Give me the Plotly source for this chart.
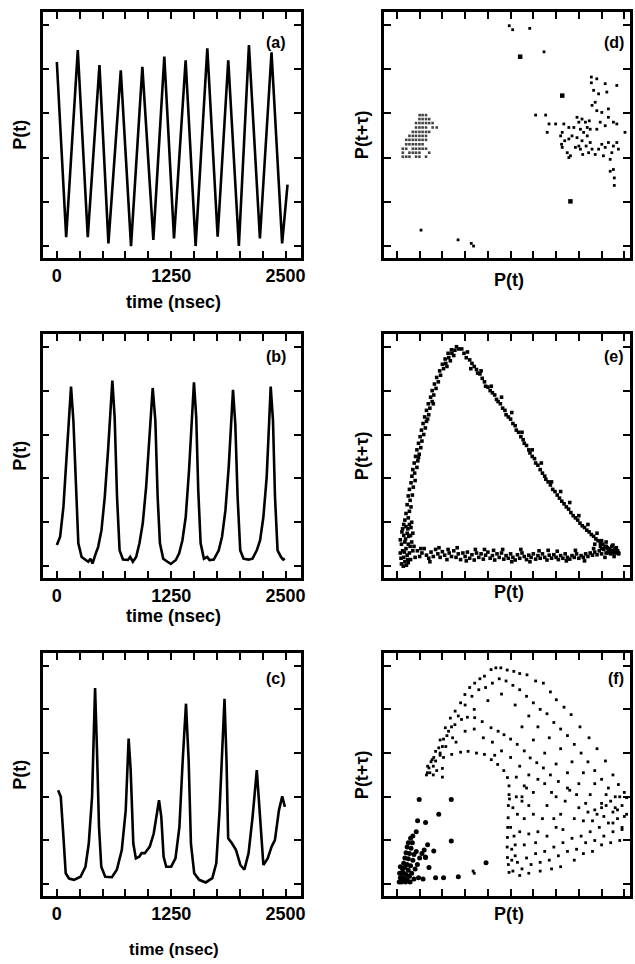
import plotly.graph_objects as go

# ---- time series (a), (b), (c): time in nsec, P(t) in tick units (0..5)
t_a = [0, 102, 229, 338, 466, 564, 699, 811, 935, 1055, 1175, 1281, 1408, 1517,
       1645, 1758, 1874, 1990, 2100, 2220, 2347, 2463, 2522]
p_a = [4.16, 0.20, 4.43, 0.20, 4.09, 0.06, 3.97, 0.00, 4.05, 0.14, 4.28, 0.17, 4.20, 0.00,
       4.47, 0.21, 4.20, 0.00, 4.54, 0.17, 4.38, 0.06, 1.39]

t_b = [0, 36, 72, 108, 137, 155, 181, 210, 235, 271, 307, 343, 368, 390, 426, 452,
       488, 524, 560, 589, 607, 632, 658, 686, 723, 777, 802, 831, 867, 903,
       939, 976, 1012, 1048, 1077, 1102, 1127, 1163, 1210, 1246, 1301, 1337, 1373,
       1409, 1445, 1481, 1499, 1524, 1546, 1572, 1608, 1644, 1669, 1716, 1770, 1806,
       1843, 1879, 1908, 1926, 1951, 1976, 2005, 2041, 2095, 2139, 2186, 2222,
       2258, 2294, 2320, 2338, 2363, 2385, 2413, 2450, 2475, 2493]
p_b = [0.48, 0.67, 1.35, 2.64, 3.55, 4.09, 3.32, 1.58, 0.52, 0.21, 0.15, 0.10, 0.17, 0.06, 0.29, 0.44,
       0.82, 1.58, 2.64, 3.62, 4.23, 3.39, 1.58, 0.36, 0.15, 0.14, 0.21, 0.10, 0.21, 0.52,
       0.97, 1.80, 2.94, 4.06, 3.32, 1.58, 0.52, 0.17, 0.10, 0.05, 0.14, 0.29, 0.59,
       1.12, 2.18, 3.55, 4.19, 3.39, 1.73, 0.52, 0.17, 0.21, 0.14, 0.15, 0.36, 0.67,
       1.27, 2.26, 3.32, 4.02, 3.24, 1.58, 0.36, 0.17, 0.15, 0.17, 0.36, 0.59,
       1.12, 2.03, 3.24, 4.09, 3.32, 1.58, 0.36, 0.21, 0.15, 0.17]

t_c = [14, 43, 72, 97, 133, 187, 259, 313, 349, 385, 403, 418, 439, 461, 486, 529, 602,
       656, 710, 753, 785, 807, 836, 864, 901, 926, 962, 1016, 1059, 1095, 1117, 1142,
       1167, 1196, 1250, 1297, 1340, 1376, 1412, 1441, 1466, 1502, 1556, 1628, 1700,
       1743, 1779, 1808, 1833, 1855, 1873, 1916, 1959, 2006, 2050, 2096, 2140, 2186,
       2222, 2258, 2305, 2348, 2384, 2428, 2464, 2493]
p_c = [2.15, 2.00, 1.09, 0.25, 0.13, 0.10, 0.17, 0.40, 0.93, 2.00, 3.37, 4.49, 3.06, 1.31, 0.40, 0.17, 0.16,
       0.33, 0.78, 1.69, 3.33, 2.61, 0.93, 0.59, 0.63, 0.71, 0.71, 0.86, 1.16, 1.69, 1.92, 1.54,
       0.63, 0.40, 0.40, 0.59, 1.31, 2.83, 4.13, 2.83, 0.93, 0.25, 0.10, 0.04, 0.14,
       0.48, 1.69, 3.06, 4.24, 2.83, 1.05, 0.93, 0.78, 0.44, 0.33, 0.71, 1.54, 2.61,
       1.54, 0.44, 0.59, 0.86, 1.01, 1.69, 2.01, 1.77]

# ---- delay plots (d), (e), (f): P(t) and P(t+tau) in tick units
d_grid_x = [1.00, 1.13, 1.28,
            0.99, 1.13, 1.28, 1.42,
            0.84, 0.99, 1.13, 1.28, 1.42, 1.57,
            0.84, 0.99, 1.13, 1.28, 1.57, 1.75,
            0.70, 0.84, 0.99, 1.13, 1.28, 1.42,
            0.55, 0.70, 0.84, 0.99, 1.13, 1.28,
            0.41, 0.55, 0.70, 0.84, 0.99, 1.13, 1.28,
            0.41, 0.55, 0.70, 0.84, 0.99, 1.13,
            0.26, 0.41, 0.70, 0.84, 0.99, 1.13, 1.28,
            0.26, 0.55, 0.70, 0.84, 0.99, 1.42,
            0.26, 0.41, 0.55, 0.84, 0.99, 1.28]
d_grid_y = [2.96, 2.96, 2.96,
            2.87, 2.87, 2.87, 2.87,
            2.78, 2.78, 2.78, 2.78, 2.78, 2.78,
            2.68, 2.68, 2.68, 2.68, 2.68, 2.68,
            2.58, 2.58, 2.58, 2.58, 2.58, 2.58,
            2.49, 2.49, 2.49, 2.49, 2.49, 2.49,
            2.40, 2.40, 2.40, 2.40, 2.40, 2.40, 2.40,
            2.30, 2.30, 2.30, 2.30, 2.30, 2.30,
            2.20, 2.20, 2.20, 2.20, 2.20, 2.20, 2.20,
            2.11, 2.11, 2.11, 2.11, 2.11, 2.11,
            2.02, 2.02, 2.02, 2.02, 2.02, 2.02]
d_small_x = [6.54, 6.69, 6.61, 7.34, 7.27, 7.24, 7.27, 7.56, 7.49, 7.63, 7.78, 7.92, 8.00, 8.14,
             8.07, 8.21, 7.92, 8.14, 8.37, 8.32, 8.07, 7.85, 8.50, 8.58, 8.43, 8.72, 8.87, 9.01,
             9.16, 9.30, 9.52, 9.67, 9.74, 9.45, 9.08, 8.79, 8.94, 9.16, 9.30, 9.52, 9.67, 8.58,
             8.72, 8.79, 9.01, 8.65, 8.87, 8.79, 9.23, 9.30, 9.16, 9.67, 8.55, 8.55, 8.50, 8.37,
             8.29, 8.46, 7.56, 7.70, 7.38, 7.20, 6.98, 8.00, 8.17, 7.56, 9.38, 10.03, 9.52, 9.56,
             9.56, 9.38, 6.10,
             4.94, 5.09, 5.84, 6.47, 1.06, 2.69, 3.27, 3.37]
d_small_y = [2.96, 2.76, 2.57, 2.76, 2.57, 2.30, 2.23, 2.42, 2.11, 2.04, 2.68, 2.91, 2.80, 2.87,
             2.64, 2.57, 2.45, 2.38, 2.49, 2.26, 2.19, 2.23, 2.34, 2.19, 2.11, 2.07, 2.19, 2.30,
             2.23, 2.34, 2.26, 2.34, 2.19, 2.11, 2.04, 2.64, 2.80, 2.72, 2.91, 2.80, 2.76, 3.18,
             3.25, 3.06, 3.02, 3.52, 3.44, 3.78, 3.48, 3.10, 3.67, 3.63, 3.82, 3.69, 2.64, 2.68,
             2.80, 2.83, 2.68, 2.49, 2.38, 2.49, 2.76, 2.26, 2.07, 2.00, 1.96, 2.57, 1.73, 1.54,
             1.37, 1.69, 2.96,
             4.98, 4.89, 4.92, 4.39, 0.36, 0.14, 0.06, 0.00]
d_big_x = [5.42, 7.27, 7.63]
d_big_y = [4.28, 3.40, 1.01]

e_x = [0.20, 0.35, 0.50, 0.30, 0.45, 0.60, 0.25, 0.40, 0.55, 0.70, 0.20, 0.35, 0.50, 0.65, 0.30, 0.45,
       0.60, 0.25, 0.40, 0.55, 0.35, 0.50, 0.65, 0.15, 0.15, 0.80, 0.75, 0.28, 0.42, 0.58, 0.38, 0.52,
       0.22, 0.48, 0.62, 0.30, 0.70, 0.18, 0.33, 0.47,
       0.40, 0.55, 0.62, 0.45, 0.58, 0.50, 0.68, 0.55, 0.72, 0.62, 0.80, 0.66, 0.78, 0.70, 0.88, 0.76,
       0.92, 0.82, 0.98, 0.88, 1.05, 0.95, 1.10, 1.02, 1.18, 1.08, 1.25, 1.15, 1.30, 1.22, 1.40, 1.30,
       1.45, 1.38, 1.55, 1.48, 1.62, 1.55, 1.72, 1.65, 1.82, 1.75, 1.92, 1.88, 2.05, 2.00, 2.15, 2.12,
       2.28, 2.25, 2.42, 2.40, 2.55, 2.62, 2.72, 2.50, 2.35, 2.20, 1.60, 0.95, 1.35,
       2.85, 2.95, 3.10, 3.05, 3.20, 3.30, 3.40, 3.50, 3.55, 3.65, 3.75, 3.85, 3.90, 4.00, 4.10, 4.20,
       4.30, 4.38, 4.45, 4.55, 4.65, 4.75, 4.80, 4.90, 5.00, 5.10, 5.20, 5.25, 5.35, 5.45, 5.55, 5.60,
       5.70, 5.80, 5.85, 5.95, 6.05, 6.10, 6.20, 6.30, 6.40, 6.50, 6.55, 6.65, 6.75, 6.85, 6.95, 7.05,
       7.15, 7.25, 7.35, 7.45, 7.55, 7.65, 7.75, 7.85, 7.95, 8.05, 8.15, 8.25, 8.35, 8.45, 8.55, 8.65,
       8.75, 8.85, 8.95, 9.05, 9.15, 9.25, 9.35, 9.45, 9.55, 9.65, 9.75,
       3.25, 3.70, 4.15, 4.60, 5.05, 5.50, 5.95, 6.35, 6.80, 7.20, 7.60, 8.00, 8.40, 8.80, 9.20, 9.50,
       9.30, 8.70, 9.00, 9.60,
       0.9, 1.0, 1.1, 1.2, 1.3, 1.4, 1.5, 1.6, 1.7, 1.8, 1.9, 2.0, 2.1, 2.2, 2.3, 2.4, 2.5, 2.6, 2.7,
       2.8, 2.9, 3.0, 3.1, 3.2, 3.3, 3.4, 3.5, 3.6, 3.7, 3.8, 3.9, 4.0, 4.1, 4.2, 4.3, 4.4, 4.5, 4.6,
       4.7, 4.8, 4.9, 5.0, 5.1, 5.2, 5.3, 5.4, 5.5, 5.6, 5.7, 5.8, 5.9, 6.0, 6.1, 6.2, 6.3, 6.4, 6.5,
       6.6, 6.7, 6.8, 6.9, 7.0, 7.1, 7.2, 7.3, 7.4, 7.5, 7.6, 7.7, 7.8, 7.9, 8.0, 8.1, 8.2, 8.3, 8.4,
       8.5, 8.6, 8.7, 8.8, 8.9, 9.0, 9.1, 9.2, 9.3, 9.4, 9.5, 9.6, 9.7,
       1.05, 1.45, 1.85, 2.25, 2.65, 3.05, 3.45, 3.85, 4.25, 4.65, 5.05, 5.45, 5.85, 6.25, 6.65, 7.05,
       7.45, 7.85, 8.25, 8.65, 8.95, 9.15, 9.45, 9.65, 9.55,
       9.3, 9.4, 9.5, 9.6, 9.7, 9.75, 9.2, 9.0]
e_y = [0.05, 0.10, 0.08, 0.20, 0.25, 0.15, 0.35, 0.40, 0.30, 0.35, 0.50, 0.55, 0.50, 0.55, 0.70, 0.75,
       0.70, 0.85, 0.90, 0.95, 1.05, 1.10, 1.00, 0.30, 0.60, 0.20, 0.45, 0.00, 0.02, 0.45, 0.62, 0.68,
       0.78, 0.85, 0.88, 0.95, 0.75, 0.18, 0.32, 0.15,
       1.20, 1.25, 1.35, 1.40, 1.50, 1.60, 1.62, 1.75, 1.80, 1.90, 1.95, 2.05, 2.12, 2.20, 2.25, 2.35,
       2.40, 2.50, 2.55, 2.65, 2.70, 2.80, 2.85, 2.95, 3.00, 3.10, 3.15, 3.25, 3.30, 3.40, 3.45, 3.55,
       3.60, 3.70, 3.75, 3.85, 3.90, 4.00, 4.05, 4.15, 4.20, 4.30, 4.35, 4.45, 4.50, 4.60, 4.62, 4.72,
       4.75, 4.85, 4.85, 4.93, 4.92, 5.00, 4.95, 4.80, 4.68, 4.55, 3.70, 2.48, 3.35,
       4.95, 4.85, 4.88, 4.75, 4.70, 4.62, 4.55, 4.48, 4.40, 4.38, 4.28, 4.20, 4.10, 4.08, 4.00, 3.95,
       3.90, 3.80, 3.75, 3.70, 3.60, 3.55, 3.45, 3.40, 3.35, 3.25, 3.20, 3.10, 3.05, 2.95, 2.88, 2.80,
       2.75, 2.65, 2.58, 2.50, 2.45, 2.35, 2.30, 2.20, 2.12, 2.05, 1.98, 1.92, 1.85, 1.75, 1.70, 1.62,
       1.55, 1.48, 1.42, 1.35, 1.30, 1.22, 1.15, 1.10, 1.05, 0.98, 0.92, 0.88, 0.82, 0.78, 0.72, 0.68,
       0.62, 0.58, 0.52, 0.50, 0.45, 0.42, 0.38, 0.36, 0.33, 0.32, 0.30,
       4.50, 4.45, 4.10, 3.85, 3.50, 3.05, 2.65, 2.35, 1.92, 1.70, 1.45, 1.15, 0.95, 0.75, 0.55, 0.48,
       0.30, 0.50, 0.40, 0.40,
       0.35, 0.22, 0.30, 0.40, 0.25, 0.18, 0.32, 0.22, 0.38, 0.28, 0.20, 0.33, 0.25, 0.15, 0.30, 0.22,
       0.35, 0.20, 0.28, 0.15, 0.30, 0.22, 0.32, 0.18, 0.26, 0.14, 0.30, 0.20, 0.28, 0.16, 0.25, 0.32,
       0.18, 0.24, 0.14, 0.28, 0.20, 0.30, 0.16, 0.24, 0.18, 0.28, 0.20, 0.14, 0.26, 0.18, 0.30, 0.22,
       0.15, 0.25, 0.20, 0.28, 0.16, 0.24, 0.18, 0.28, 0.20, 0.14, 0.25, 0.18, 0.26, 0.20, 0.15, 0.24,
       0.18, 0.28, 0.20, 0.16, 0.24, 0.20, 0.28, 0.18, 0.24, 0.20, 0.28, 0.22, 0.30, 0.25, 0.32, 0.26,
       0.35, 0.28, 0.38, 0.30, 0.36, 0.28, 0.34, 0.30, 0.35,
       0.40, 0.10, 0.42, 0.38, 0.42, 0.12, 0.38, 0.38, 0.36, 0.38, 0.10, 0.38, 0.10, 0.35, 0.36, 0.34,
       0.12, 0.36, 0.12, 0.40, 0.45, 0.20, 0.45, 0.42, 0.22,
       0.40, 0.35, 0.30, 0.36, 0.33, 0.28, 0.45, 0.58]

f_big_x = [0.10, 0.20, 0.30, 0.15, 0.25, 0.35, 0.45, 0.20, 0.30, 0.40, 0.55, 0.25, 0.35, 0.50, 0.65,
           0.30, 0.45, 0.60, 0.35, 0.50, 0.70, 0.40, 0.55, 0.75, 0.45, 0.62, 0.50, 0.68, 0.85, 0.90,
           0.80, 1.00, 1.10, 1.20, 1.35, 1.25, 0.95, 1.15, 0.60, 0.70, 0.85, 0.15, 0.38, 0.12, 0.58,
           0.75, 0.98, 0.91, 1.26, 1.84, 2.39, 2.39, 1.62, 1.70, 2.05, 2.70, 3.92, 1.41, 1.26]
f_big_y = [0.05, 0.05, 0.08, 0.15, 0.15, 0.12, 0.10, 0.25, 0.25, 0.22, 0.18, 0.35, 0.38, 0.32, 0.25,
           0.48, 0.45, 0.42, 0.60, 0.58, 0.55, 0.72, 0.70, 0.68, 0.85, 0.82, 0.95, 0.95, 0.75, 0.45,
           0.35, 0.60, 0.70, 0.78, 0.90, 0.62, 0.15, 0.12, 1.05, 1.10, 1.20, 0.40, 0.05, 0.25, 0.05,
           0.12, 1.94, 1.45, 1.41, 1.60, 1.94, 0.99, 0.76, 0.15, 0.15, 0.17, 0.49, 0.38, 0.61]
f_small_x = [1.34, 1.55, 1.70, 1.90, 2.13, 2.35, 2.56, 2.80, 2.99, 3.20, 3.42, 3.65, 3.85, 4.14, 4.35,
             4.57, 4.85, 5.14, 5.40, 5.72, 6.10, 6.44, 6.75, 7.01, 7.35, 7.66, 8.05, 8.45, 8.80, 9.17,
             9.50, 9.74, 10.1,
             1.41, 1.62, 1.84, 2.05, 2.27, 2.55, 2.84, 3.10, 3.42, 3.75, 4.14, 4.45, 4.71, 5.00, 5.29,
             5.60, 5.86, 6.15, 6.44, 6.75, 7.10, 7.50, 7.90, 8.30, 8.70, 9.10, 9.50, 9.90,
             1.70, 2.05, 2.41, 2.80, 3.13, 3.50, 3.85, 4.15, 4.43, 4.70, 4.86, 4.93, 4.93, 4.90, 4.89,
             4.87, 4.86, 4.85, 4.86, 4.90, 4.93,
             1.6, 2.0, 2.4, 2.7, 3.0, 3.3, 3.6, 3.9, 4.2, 4.5, 4.8, 5.1, 5.4, 5.7, 6.0, 6.3, 6.6, 6.9,
             7.2, 7.5, 7.8, 8.1, 8.4, 8.7, 9.0, 9.3, 9.6, 9.9, 4.0, 4.6, 5.2, 5.8, 6.2, 6.7, 7.2, 7.7,
             8.2, 8.7, 9.2, 9.7, 3.4, 2.2, 1.9, 5.5, 6.0, 6.5, 7.0, 7.5, 8.0, 8.5, 9.0, 9.5, 10.0,
             5.1, 5.3, 5.5, 5.7, 5.9, 6.1, 6.3, 6.5, 6.7, 6.9, 7.1, 7.3, 7.5, 7.7, 7.9, 8.1, 8.3, 8.5,
             8.7, 8.9, 9.1, 9.3, 9.5, 9.7, 9.9, 10.1,
             5.2, 5.4, 5.6, 5.8, 6.0, 5.3, 5.5, 5.7, 6.2, 6.4, 6.6, 6.8, 6.1, 7.0, 7.2, 7.4, 7.6, 7.8,
             8.0, 8.2, 8.4, 8.6, 8.8, 9.0, 9.2, 9.4, 9.6, 9.8, 10.0,
             5.0, 5.15, 5.2, 5.6, 5.8, 6.3, 6.6, 6.9, 7.3, 7.8, 8.2, 8.6, 9.0, 9.4, 9.8, 5.05, 5.05,
             5.1, 5.25, 6.0, 6.5, 7.0, 4.95, 5.4, 5.8, 6.8, 7.2,
             3.4, 3.35, 1.3, 1.45, 1.6, 1.75, 2.0, 1.35, 1.5, 1.9, 2.15, 2.45, 2.0,
             2.6, 3.0, 3.4, 3.8, 4.2, 4.6, 5.0, 5.4, 5.8, 6.2, 4.3, 5.25, 5.6, 5.5]
f_small_y = [2.55, 2.85, 3.04, 3.30, 3.58, 3.80, 3.96, 4.15, 4.34, 4.50, 4.60, 4.70, 4.76, 4.91, 4.95,
             4.95, 4.90, 4.87, 4.82, 4.79, 4.65, 4.60, 4.40, 4.22, 4.05, 3.88, 3.60, 3.35, 3.10, 2.82,
             2.50, 2.28, 1.98,
             2.66, 2.90, 3.12, 3.32, 3.50, 3.65, 3.77, 3.82, 3.81, 3.72, 3.58, 3.50, 3.42, 3.32, 3.20,
             3.05, 2.89, 2.78, 2.66, 2.50, 2.35, 2.20, 2.05, 1.85, 1.70, 1.55, 1.40, 1.30,
             2.82, 2.90, 2.97, 3.02, 3.04, 3.00, 2.97, 2.85, 2.74, 2.60, 2.44, 2.25, 2.05, 1.80, 1.52,
             1.30, 1.07, 0.85, 0.61, 0.45, 0.27,
             2.70, 3.15, 3.60, 3.85, 4.10, 4.30, 4.45, 4.50, 4.60, 4.70, 4.65, 4.55, 4.45, 4.30, 4.15,
             4.00, 3.90, 3.70, 3.55, 3.40, 3.20, 3.00, 2.80, 2.60, 2.40, 2.20, 2.00, 1.80, 4.20, 4.35,
             4.10, 3.85, 3.60, 3.35, 3.10, 2.80, 2.55, 2.30, 2.05, 1.70, 4.00, 3.40, 3.00, 3.60, 3.30,
             3.00, 2.75, 2.55, 2.30, 2.05, 1.85, 1.65, 1.55,
             0.30, 0.50, 0.35, 0.60, 0.45, 0.70, 0.50, 0.75, 0.55, 0.85, 0.65, 0.95, 0.75, 1.05, 0.80,
             1.10, 0.95, 1.20, 1.00, 1.30, 1.10, 1.40, 1.20, 1.50, 1.25, 1.60,
             0.90, 1.20, 1.50, 1.80, 2.10, 1.60, 1.90, 2.20, 1.20, 1.50, 1.80, 2.10, 0.95, 1.30, 1.60,
             1.90, 2.15, 1.50, 1.75, 1.45, 1.65, 1.45, 1.60, 1.75, 1.80, 1.90, 1.75, 2.00, 2.10,
             1.30, 1.10, 0.65, 0.90, 1.15, 0.30, 1.10, 1.50, 1.25, 0.55, 0.70, 0.75, 0.90, 0.95, 1.00,
             0.55, 0.80, 1.75, 2.00, 1.60, 2.30, 2.00, 1.95, 0.20, 0.25, 0.35, 0.40,
             0.25, 0.30, 2.50, 2.55, 2.50, 2.60, 2.65, 2.70, 2.80, 2.95, 3.15, 3.35, 2.45,
             3.25, 3.50, 3.55, 3.35, 3.25, 3.05, 2.90, 2.70, 2.50, 2.40, 2.95, 2.45, 2.25, 2.00]

time_ticks = [0, 250, 500, 750, 1000, 1250, 1500, 1750, 2000, 2250, 2500]
time_labels = ["0", "", "", "", "", "1250", "", "", "", "", "2500"]

FONT = "Liberation Sans"
INK = "black"


def frame(domain, rng, tickvals, anchor, ticktext=None):
    ax = dict(domain=domain, range=rng, anchor=anchor, showline=True, mirror="ticks",
              linecolor=INK, linewidth=2.5, ticks="inside", ticklen=7, tickwidth=2,
              tickcolor=INK, showgrid=False, zeroline=False, tickvals=tickvals, fixedrange=True)
    if ticktext is None:
        ax["showticklabels"] = False
    else:
        ax["ticktext"] = ticktext
        ax["tickfont"] = dict(family=FONT, size=18, color=INK, weight="bold")
    return ax


fig = go.Figure()

line = dict(color=INK, width=2.6)
fig.add_trace(go.Scatter(x=t_a, y=p_a, mode="lines", line=line, xaxis="x", yaxis="y"))
fig.add_trace(go.Scatter(x=t_b, y=p_b, mode="lines", line=line, xaxis="x2", yaxis="y2"))
fig.add_trace(go.Scatter(x=t_c, y=p_c, mode="lines", line=line, xaxis="x3", yaxis="y3"))

dot = dict(color=INK, size=2.8, symbol="square")
big = dict(color=INK, size=4.5, symbol="square")
fig.add_trace(go.Scatter(x=d_grid_x, y=d_grid_y, mode="markers",
                         marker=dict(color="#444", size=2.6, symbol="square"),
                         xaxis="x4", yaxis="y4"))
fig.add_trace(go.Scatter(x=d_small_x, y=d_small_y, mode="markers", marker=dot, xaxis="x4", yaxis="y4"))
fig.add_trace(go.Scatter(x=d_big_x, y=d_big_y, mode="markers", marker=big, xaxis="x4", yaxis="y4"))
fig.add_trace(go.Scatter(x=e_x, y=e_y, mode="markers",
                         marker=dict(color=INK, size=3.6, symbol="square"),
                         xaxis="x5", yaxis="y5"))
fig.add_trace(go.Scatter(x=f_big_x, y=f_big_y, mode="markers", marker=dict(color=INK, size=5),
                         xaxis="x6", yaxis="y6"))
fig.add_trace(go.Scatter(x=f_small_x, y=f_small_y, mode="markers", marker=dot, xaxis="x6", yaxis="y6"))

W, H = 635, 964
xl = [43 / W, 303 / W]
xr = [387 / W, 1.0]
rows = [[1 - 258 / H, 1 - 12 / H], [1 - 578 / H, 1 - 334 / H], [1 - 896 / H, 1 - 653 / H]]
t_range = [-155, 2665]
p_range = [-0.27, 5.29]
q_range = [-0.57, 10.25]
yt = [0, 1, 2, 3, 4, 5]
xt = list(range(11))

fig.update_layout(
    width=W, height=H, showlegend=False,
    margin=dict(l=0, r=0, t=0, b=0),
    paper_bgcolor="white", plot_bgcolor="white",
    xaxis=frame(xl, t_range, time_ticks, "y", time_labels), yaxis=frame(rows[0], p_range, yt, "x"),
    xaxis2=frame(xl, t_range, time_ticks, "y2", time_labels), yaxis2=frame(rows[1], p_range, yt, "x2"),
    xaxis3=frame(xl, t_range, time_ticks, "y3", time_labels), yaxis3=frame(rows[2], p_range, yt, "x3"),
    xaxis4=frame(xr, q_range, xt, "y4"), yaxis4=frame(rows[0], p_range, yt, "x4"),
    xaxis5=frame(xr, q_range, xt, "y5"), yaxis5=frame(rows[1], p_range, yt, "x5"),
    xaxis6=frame(xr, q_range, xt, "y6"), yaxis6=frame(rows[2], p_range, yt, "x6"),
)


def label(text, px, py, size=18, angle=0, anchor="center"):
    fig.add_annotation(text=text, x=px / W, y=1 - py / H, xref="paper", yref="paper",
                       showarrow=False, textangle=angle, xanchor=anchor, yanchor="middle",
                       font=dict(family=FONT, size=size, color=INK, weight="bold"))


for py in (135, 456, 775):
    label("P(t)", 20, py, angle=-90)
    label("P(t+τ)", 365, py, angle=-90)
label("time (nsec)", 175, 302)
label("time (nsec)", 175, 616)
label("time (nsec)", 175, 949, size=17)
label("P(t)", 513, 280)
label("P(t)", 513, 592)
label("P(t)", 513, 914)
for txt, px, py in [("(a)", 278, 43), ("(b)", 278, 356), ("(c)", 278, 678)]:
    label(txt, px, py, size=16)
for txt, py in [("(d)", 43), ("(e)", 356), ("(f)", 678)]:
    label(txt, 631, py, size=16, anchor="right")

# the page body has a default 8px margin; drop it so the figure fills the window
fig.write_html("out.html", config={"displayModeBar": False},
               post_script="document.body.style.margin = '0';")
